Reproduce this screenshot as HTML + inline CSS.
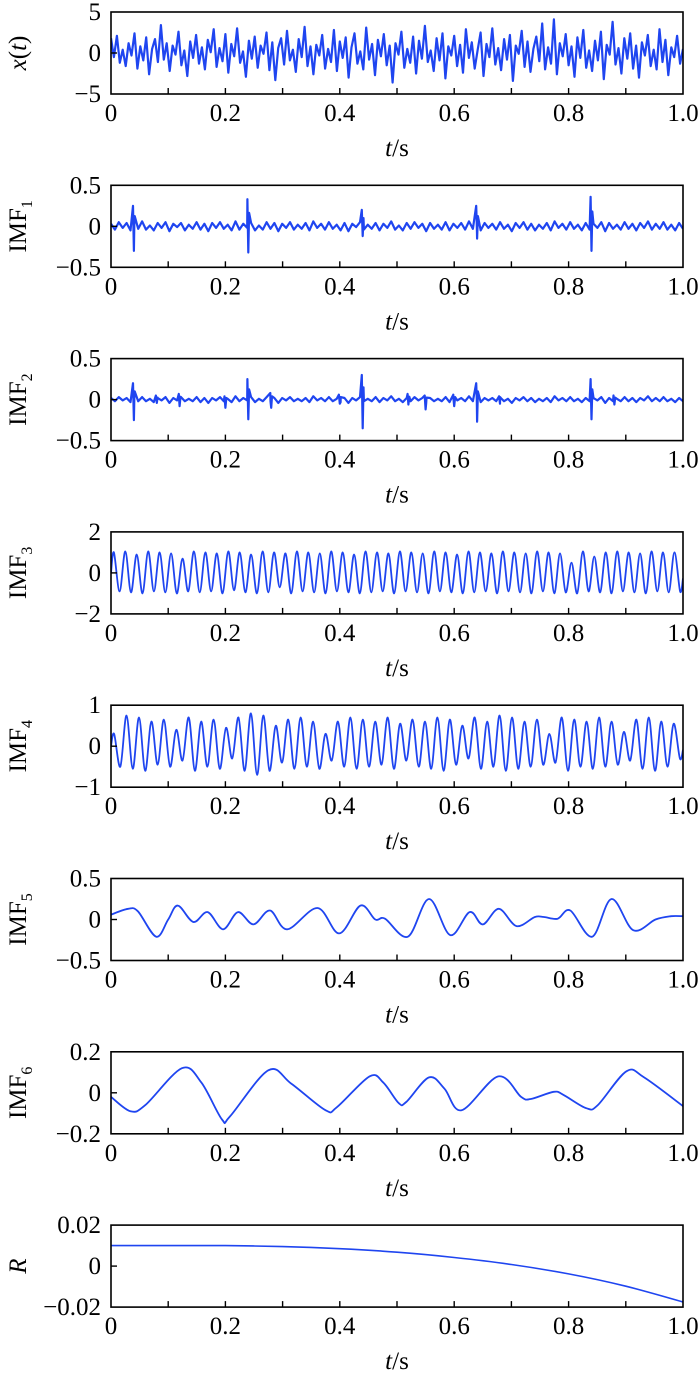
<!DOCTYPE html>
<html><head><meta charset="utf-8">
<style>
html,body{margin:0;padding:0;background:#fff;}
svg{display:block;}
text{font-family:"Liberation Serif","Times New Roman",Times,serif;fill:#000;}
</style></head>
<body>
<svg id="fig" width="700" height="1375" viewBox="0 0 700 1375" xmlns="http://www.w3.org/2000/svg" font-family="Liberation Serif, serif"></svg>
<script>
// ---------- DATA ----------
const xTickLabels = ["0","0.2","0.4","0.6","0.8","1.0"];
const xTickValues = [0,0.2,0.4,0.6,0.8,1.0];

const xSignal = [1.8,-0.5,2.1,-1.2,0.4,-1.6,1.2,-0.3,2.4,-1.9,0.8,-0.9,1.9,-2.6,0.5,1.7,-1.1,3.4,-0.8,1.2,-2.2,0.9,-0.2,2.6,-1.5,0.3,-2.8,1.4,-0.6,2.2,-1.3,0.7,-2.0,1.6,0.1,2.9,-1.7,0.6,-1.0,2.3,-2.4,1.1,-0.4,3.0,-1.2,0.2,-2.9,1.5,-0.7,2.0,-1.8,0.9,-0.1,2.5,-2.1,1.3,-3.3,0.6,1.8,-1.4,2.7,-0.9,0.4,-2.3,1.7,-0.5,3.2,-1.6,0.8,-2.6,1.0,-0.3,2.2,-1.9,0.5,-1.1,2.8,-2.2,1.4,-0.6,1.9,-3.0,0.7,2.4,-1.3,0.2,-2.0,3.1,-0.8,1.1,-2.7,1.6,-0.4,2.3,-1.5,0.9,-3.6,1.2,-0.2,2.6,-1.8,0.5,-1.2,2.0,-2.5,1.5,-0.7,3.3,-1.1,0.3,-2.2,1.8,-0.9,2.4,-3.1,0.8,-0.3,2.1,-1.6,1.0,-2.4,2.9,-0.6,1.3,-1.9,0.4,2.5,-2.8,1.1,-0.5,3.0,-1.4,0.6,-2.1,1.7,-0.8,2.2,-3.4,0.9,-0.1,2.7,-1.7,1.4,-2.3,0.5,2.0,-1.0,3.6,-2.0,0.7,-1.3,4.1,-2.6,1.2,-0.4,2.3,-1.5,0.8,-2.9,1.9,-0.6,2.8,-1.8,0.3,-2.2,1.5,-0.9,2.6,-3.2,1.0,-0.2,3.8,-1.4,0.6,-2.5,1.8,-0.7,2.4,-1.9,0.9,-3.0,1.3,-0.3,2.2,-1.6,0.4,-2.0,2.9,-1.1,1.6,-2.7,0.7,-0.5,2.1,-1.3,0.5];

const imf1Noise = [0.03,-0.04,0.05,-0.02,0.04,-0.05,0.02,-0.03,0.06,-0.04,0.01,-0.05,0.04,-0.02,0.05,-0.06,0.03,-0.01,0.04,-0.05,0.02,-0.03,0.05,-0.04,0.03,-0.06,0.04,-0.02,0.05,-0.03,0.02,-0.05,0.06,-0.04,0.03,-0.02,0.04,-0.05,0.01,-0.04,0.05,-0.03,0.04,-0.06,0.03,-0.02,0.05,-0.04,0.02,-0.03,0.04,-0.05,0.06,-0.02,0.03,-0.04,0.05,-0.03,0.02,-0.05,0.04,-0.06,0.03,-0.01,0.05,-0.04,0.02,-0.03,0.04,-0.05,0.03,-0.02,0.06,-0.04,0.01,-0.05,0.04,-0.03,0.05,-0.02,0.03,-0.06,0.04,-0.03,0.02,-0.04,0.05,-0.05,0.03,-0.02,0.04,-0.04,0.06,-0.03,0.02,-0.05,0.04,-0.02,0.03,-0.04,0.05,-0.03,0.02,-0.06,0.04,-0.02,0.05,-0.04,0.03,-0.05,0.02,-0.03,0.04,-0.05,0.06,-0.02,0.03,-0.04,0.05,-0.03,0.02,-0.05,0.04,-0.04,0.03,-0.02,0.05,-0.06,0.04,-0.03,0.02,-0.04,0.05,-0.03,0.03,-0.05,0.04,-0.02,0.06,-0.04,0.03,-0.03,0.05,-0.04,0.02,-0.05,0.04,-0.03];
const imf1SpikeT = [0.04,0.24,0.44,0.64,0.84];
const imf1SpikeUp = [0.25,0.33,0.2,0.25,0.36];
const imf1SpikeDown = [-0.3,-0.32,-0.12,-0.15,-0.3];

const imf2Noise = [0.02,-0.02,0.03,-0.01,0.02,-0.03,0.01,-0.02,0.03,-0.02,0.01,-0.03,0.02,-0.01,0.03,-0.04,0.02,-0.01,0.03,-0.02,0.01,-0.02,0.03,-0.03,0.02,-0.04,0.02,-0.01,0.03,-0.02,0.01,-0.03,0.04,-0.02,0.02,-0.01,0.03,-0.03,0.01,-0.02,0.03,-0.02,0.02,-0.04,0.02,-0.01,0.03,-0.02,0.01,-0.02,0.02,-0.03,0.04,-0.01,0.02,-0.02,0.03,-0.02,0.01,-0.03,0.02,-0.04,0.02,-0.01,0.03,-0.02,0.01,-0.02,0.03,-0.03,0.02,-0.01,0.04,-0.02,0.01,-0.03,0.02,-0.02,0.03,-0.01,0.02,-0.04,0.02,-0.02,0.01,-0.02,0.03,-0.03,0.02,-0.01,0.02,-0.02,0.04,-0.02,0.01,-0.03,0.02,-0.01,0.02,-0.02,0.03,-0.02,0.01,-0.04,0.02,-0.01,0.03,-0.02,0.02,-0.03,0.01,-0.02,0.02,-0.03,0.04,-0.01,0.02,-0.02,0.03,-0.02,0.01,-0.03,0.02,-0.02,0.02,-0.01,0.03,-0.04,0.02,-0.02,0.01,-0.02,0.03,-0.02,0.02,-0.03,0.02,-0.01,0.04,-0.02,0.02,-0.02,0.03,-0.02,0.01,-0.03,0.02,-0.02];
const imf2SpikeT = [0.04,0.08,0.12,0.20,0.24,0.28,0.40,0.44,0.52,0.55,0.60,0.64,0.68,0.84,0.88];
const imf2SpikeUp = [0.2,0.05,0.07,0.04,0.25,0.08,0.06,0.3,0.07,0.05,0.06,0.2,0.04,0.25,0.05];
const imf2SpikeDown = [-0.25,-0.04,-0.08,-0.1,-0.24,-0.1,-0.05,-0.35,-0.06,-0.12,-0.08,-0.27,-0.05,-0.24,-0.06];

const imf3Extrema = [1.0,-0.9,1.05,-0.95,0.9,-1.0,1.05,-0.9,1.0,-0.95,0.95,-1.0,0.7,-0.9,1.05,-0.95,1.0,-0.9,0.95,-1.0,1.05,-0.85,1.0,-0.95,0.9,-1.0,1.05,-0.95,1.0,-0.7,0.95,-1.0,1.05,-0.9,1.0,-0.95,0.95,-1.0,1.05,-0.9,1.0,-0.95,0.9,-1.0,1.05,-0.95,1.0,-0.9,0.95,-1.0,1.05,-0.9,1.0,-0.95,0.95,-1.0,1.05,-0.9,1.0,-0.95,0.9,-1.0,1.05,-0.95,1.0,-0.9,0.95,-1.0,1.05,-0.9,1.0,-0.95,0.95,-1.0,1.05,-0.9,1.0,-1.0,0.95,-0.95,0.5,-1.0,1.05,-0.9,0.8,-0.95,1.0,-1.0,1.05,-0.9,1.0,-0.95,0.95,-1.0,1.05,-0.9,1.0,-0.95,1.0,-0.9];
const imf4Extrema = [0.3,-0.5,0.75,-0.55,0.7,-0.6,0.6,-0.45,0.65,-0.5,0.4,-0.35,0.7,-0.6,0.6,-0.5,0.65,-0.55,0.45,-0.3,0.7,-0.6,0.8,-0.7,0.75,-0.6,0.5,-0.4,0.65,-0.55,0.7,-0.5,0.6,-0.55,0.3,-0.35,0.6,-0.5,0.7,-0.55,0.65,-0.5,0.6,-0.45,0.7,-0.55,0.55,-0.35,0.65,-0.5,0.6,-0.55,0.7,-0.6,0.65,-0.45,0.5,-0.3,0.7,-0.55,0.6,-0.5,0.75,-0.6,0.7,-0.55,0.6,-0.5,0.65,-0.45,0.3,-0.4,0.7,-0.6,0.65,-0.5,0.6,-0.55,0.7,-0.5,0.6,-0.45,0.35,-0.35,0.65,-0.55,0.7,-0.6,0.6,-0.5,0.55,-0.3];

const imf5T = [0,0.03,0.047,0.079,0.1,0.117,0.144,0.169,0.196,0.222,0.249,0.278,0.308,0.361,0.399,0.436,0.462,0.479,0.519,0.556,0.593,0.627,0.65,0.678,0.709,0.741,0.757,0.781,0.803,0.841,0.875,0.913,0.952,0.979,1.0];
const imf5V = [0.06,0.13,0.10,-0.21,0,0.17,-0.03,0.09,-0.12,0.09,-0.06,0.11,-0.12,0.14,-0.17,0.17,0,0.01,-0.21,0.25,-0.19,0.09,-0.06,0.13,-0.08,0.03,0.03,0.01,0.11,-0.21,0.25,-0.13,0,0.04,0.04];

const imf6T = [0,0.034,0.06,0.124,0.158,0.194,0.208,0.275,0.315,0.375,0.395,0.452,0.476,0.503,0.516,0.556,0.583,0.613,0.677,0.717,0.734,0.774,0.791,0.831,0.851,0.901,0.932,1.0];
const imf6V = [-0.02,-0.09,-0.06,0.12,0.05,-0.13,-0.115,0.11,0.045,-0.085,-0.07,0.08,0.05,-0.05,-0.045,0.075,0.02,-0.085,0.08,-0.02,-0.03,0.005,-0.01,-0.075,-0.06,0.105,0.075,-0.065];

const resT = [0,0.1,0.2,0.3,0.4,0.5,0.6,0.7,0.8,0.9,1.0];
const resV = [0.01,0.01,0.01,0.0095,0.0085,0.0068,0.0042,0.0008,-0.0038,-0.0098,-0.0175];

// ---------- LAYOUT ----------
const svg = document.getElementById('fig');
const NS = 'http://www.w3.org/2000/svg';
const L = 111, R = 683, PH = 82, TOP0 = 12, STEP = 173.3;
const BLUE = '#1f45f0';
const FONT = '"Liberation Serif", "Times New Roman", serif';

function el(tag, attrs, parent){ const e=document.createElementNS(NS,tag); for(const k in attrs) e.setAttribute(k,attrs[k]); (parent||svg).appendChild(e); return e; }
function xs(t){ return L + t*(R-L); }

function uniformPts(vals){ const n=vals.length; return vals.map((v,i)=>[i/(n-1), v]); }
function extremaPts(vals){ const n=vals.length; const p=[[0,0]]; vals.forEach((v,i)=>p.push([(i+0.5)/n, v])); p.push([1,vals[n-1]*0.3]); return p; }
function spikePts(noise, sT, sU, sD){
  const p = uniformPts(noise);
  sT.forEach((t,i)=>{ p.push([t-0.0015, sU[i]]); p.push([t, sD[i]]); p.push([t+0.0015, sU[i]*0.5]); });
  p.sort((a,b)=>a[0]-b[0]); return p;
}
function pairPts(T,V){ return T.map((t,i)=>[t,V[i]]); }

function linePath(pts, ys){ return pts.map((p,i)=>(i?'L':'M')+xs(p[0]).toFixed(1)+','+ys(p[1]).toFixed(1)).join(''); }
function smoothPath(pts, ys){
  const P = pts.map(p=>[xs(p[0]), ys(p[1])]);
  let d = 'M'+P[0][0].toFixed(1)+','+P[0][1].toFixed(1);
  for(let i=0;i<P.length-1;i++){
    const p0=P[i-1]||P[i], p1=P[i], p2=P[i+1], p3=P[i+2]||P[i+1];
    const c1=[p1[0]+(p2[0]-p0[0])/6, p1[1]+(p2[1]-p0[1])/6];
    const c2=[p2[0]-(p3[0]-p1[0])/6, p2[1]-(p3[1]-p1[1])/6];
    d+='C'+c1[0].toFixed(1)+','+c1[1].toFixed(1)+' '+c2[0].toFixed(1)+','+c2[1].toFixed(1)+' '+p2[0].toFixed(1)+','+p2[1].toFixed(1);
  }
  return d;
}

const panels = [
  {name:'x-signal', ymin:-5, ymax:5, yt:['5','0','\u22125'], pts:uniformPts(xSignal), smooth:false, sw:2.2},
  {name:'imf1', sub:'1', ymin:-0.5, ymax:0.5, yt:['0.5','0','\u22120.5'], pts:spikePts(imf1Noise,imf1SpikeT,imf1SpikeUp,imf1SpikeDown), smooth:false, sw:2.2},
  {name:'imf2', sub:'2', ymin:-0.5, ymax:0.5, yt:['0.5','0','\u22120.5'], pts:spikePts(imf2Noise,imf2SpikeT,imf2SpikeUp,imf2SpikeDown), smooth:false, sw:2.2},
  {name:'imf3', sub:'3', ymin:-2, ymax:2, yt:['2','0','\u22122'], pts:extremaPts(imf3Extrema), smooth:true, sw:1.8},
  {name:'imf4', sub:'4', ymin:-1, ymax:1, yt:['1','0','\u22121'], pts:extremaPts(imf4Extrema), smooth:true, sw:1.8},
  {name:'imf5', sub:'5', ymin:-0.5, ymax:0.5, yt:['0.5','0','\u22120.5'], pts:pairPts(imf5T,imf5V), smooth:true, sw:1.8},
  {name:'imf6', sub:'6', ymin:-0.2, ymax:0.2, yt:['0.2','0','\u22120.2'], pts:pairPts(imf6T,imf6V), smooth:true, sw:1.8},
  {name:'residual', italic:true, ymin:-0.02, ymax:0.02, yt:['0.02','0','\u22120.02'], pts:pairPts(resT,resV), smooth:true, sw:1.6}
];

panels.forEach((pn, k)=>{
  const top = TOP0 + k*STEP, bot = top + PH;
  const ys = v => bot - (v-pn.ymin)/(pn.ymax-pn.ymin)*PH;
  const g = el('g',{'font-family':FONT});
  
  

  const clipId = 'clip'+k;
  const cp = el('clipPath',{id:clipId}, g);
  el('rect',{x:L,y:top,width:R-L,height:PH}, cp);

  const path = el('path',{d: pn.smooth? smoothPath(pn.pts, ys) : linePath(pn.pts, ys), fill:'none', stroke:BLUE, 'stroke-width':pn.sw, 'stroke-linejoin':'round', 'clip-path':'url(#'+clipId+')'}, g);
  
  

  const frame = el('rect',{x:L,y:top,width:R-L,height:PH,fill:'none',stroke:'#000','stroke-width':1.6}, g);
  
  

  for(let i=1;i<10;i++){
    const tk = el('line',{x1:xs(i/10),x2:xs(i/10),y1:bot,y2:bot-6,stroke:'#000','stroke-width':1.4}, g);
    
    
  }
  const yt0 = el('line',{x1:L,x2:L+6,y1:ys(0),y2:ys(0),stroke:'#000','stroke-width':1.4}, g);
  
  

  xTickValues.forEach((v,i)=>{
    const t = el('text',{x:xs(v),y:bot+27,'font-size':25,'text-anchor':'middle','font-family':FONT}, g);
    t.textContent = xTickLabels[i];
    
    
  });
  const yv = [pn.ymax, 0, pn.ymin];
  pn.yt.forEach((s,i)=>{
    const t = el('text',{x:101,y:ys(yv[i])+8,'font-size':25,'text-anchor':'end','font-family':FONT}, g);
    t.textContent = s;
    
    
  });

  const xl = el('text',{x:(L+R)/2,y:bot+62,'font-size':25,'text-anchor':'middle','font-family':FONT}, g);
  xl.innerHTML = '<tspan font-style="italic">t</tspan>/s';
  
  

  const cy = (top+bot)/2;
  const yl = el('text',{x:0,y:0,'font-size':25,'text-anchor':'middle','font-family':FONT,transform:'translate(26,'+cy+') rotate(-90)'}, g);
  if(pn.name==='x-signal') yl.innerHTML = '<tspan font-style="italic">x</tspan>(<tspan font-style="italic">t</tspan>)';
  else if(pn.italic) yl.innerHTML = '<tspan font-style="italic">R</tspan>';
  else yl.innerHTML = 'IMF<tspan font-size="16" dy="6">'+pn.sub+'</tspan>';
  
  
});
</script>
</body></html>
